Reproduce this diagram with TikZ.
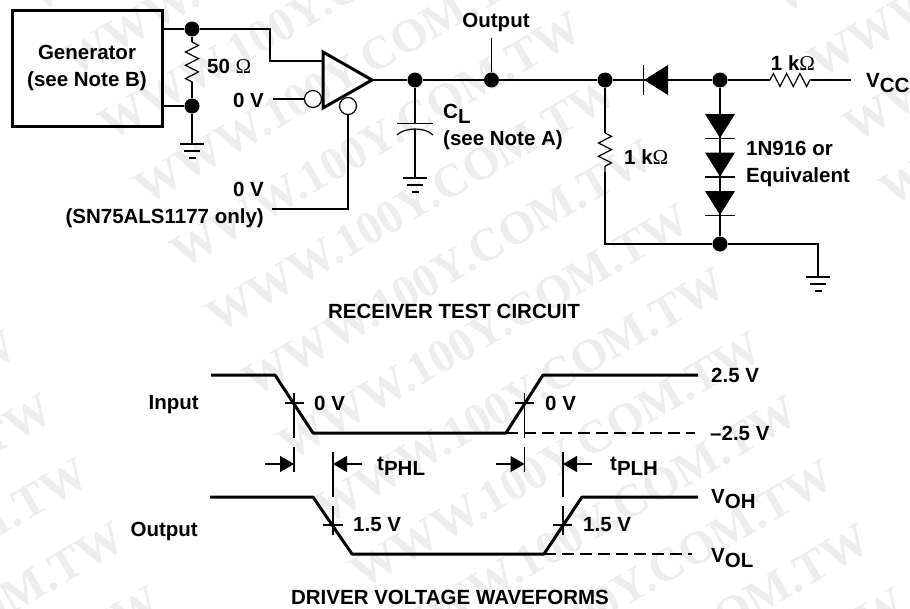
\documentclass[tikz,border=0pt]{standalone}
\usepackage{fontspec}
\setmainfont{Liberation Sans}
\newfontfamily\ohmfont{Liberation Serif}
\usetikzlibrary{arrows.meta}
\usetikzlibrary{decorations.pathmorphing}
\newcommand{\lowsub}[2]{#1\lower5pt\hbox{#2}}
\newcommand{\ohmsym}{{\ohmfont\mdseries\fontsize{21}{27}\selectfont Ω}}
\tikzset{%
  wire/.style={line width=1.2pt},
  junction/.style={circle, fill=black, inner sep=0pt, minimum size=15pt},
  lbl/.style={inner sep=0pt, font=\bfseries\fontsize{20.5}{27}\selectfont},
  mark text/.style={inner sep=0pt, text=black!7, font=\ohmfont\bfseries\fontsize{47}{47}\selectfont},
  resistor/.style={wire, decorate, decoration={zigzag, segment length=13.3pt, amplitude=6.5pt}},
  bubble/.style={circle, draw, line width=1.2pt, fill=white, inner sep=0pt, minimum size=17pt},
  wave/.style={line width=3pt, line join=round},
  level/.style={wire, dash pattern=on 12pt off 6pt},
  edgemark/.style={wire, dash pattern=on 45pt off 9pt},
  timearrow/.style={wire, -{Triangle[length=14pt,width=16pt]}},
  gndbars/.pic={
    \draw[wire] (-12,0) -- (12,0);
    \draw[wire] (-8,7) -- (8,7);
    \draw[wire] (-3.5,14) -- (3.5,14);
  },
  diode/.pic={
    \fill (0,-15) -- (24,0) -- (0,15) -- cycle;
    \draw[wire] (24.5,-15) -- (24.5,15);
  }
}

\begin{document}
\begin{tikzpicture}[x=1pt, y=-1pt]
  \useasboundingbox (0, 0) rectangle (910, 608);

  % watermark
  \begin{scope}
    \clip (0, 0) rectangle (910, 608);
    \foreach \c/\kmin/\kmax in {-1/-2/3, 0/-5/8, 1/0/3}
      \foreach \k in {\kmin,...,\kmax}
        \node[mark text, anchor=base west, rotate=30] (wm\c\k) at ({218+36*\k+565*\c}, {334+64*\k-318*\c}) {WWW.100Y.COM.TW};
  \end{scope}

  % receiver test circuit
  \node[draw, line width=3pt, minimum width=150pt, minimum height=116pt, lbl, align=center] (gen) at (87, 68) {Generator\\(see Note B)};
  \node[junction] (j1) at (192, 29) {};
  \node[junction] (j2) at (192, 106) {};
  \draw[wire] (gen.east |- j1) -- (j1);
  \draw[wire] (gen.east |- j2) -- (j2);
  \draw[wire] (j1) -- (192, 42);
  \draw[resistor] (192, 42) -- (192, 82);
  \draw[wire] (192, 82) -- (j2);
  \node[lbl, anchor=west] (r50) at (207, 66) {50 \ohmsym};
  \coordinate (g1) at (192, 144);
  \draw[wire] (j2) -- (g1);
  \pic at (g1) {gndbars};

  \draw[line width=3pt, line join=miter] (323, 52) -- (372, 80) -- (323, 108) -- cycle;
  \coordinate (bufin) at (323, 61);
  \coordinate (bufout) at (372, 80);
  \draw[wire] (j1) -- (270, 29) -- (270, 61) -- (bufin);
  \node[bubble] (b1) at (313, 99) {};
  \node[bubble] (b2) at (348, 106) {};
  \node[lbl, anchor=east] (v0a) at (264, 100) {0 V};
  \draw[wire] (273, 99) -- (b1);
  \node[lbl, anchor=east, align=right] (v0b) at (264, 204.5) {0 V\\(SN75ALS1177 only)};
  \coordinate (c1) at (272, 209);
  \draw[wire] (b2) -- (348, 209) -- (c1);

  \node[junction] (j3) at (415, 80) {};
  \node[junction] (j4) at (491.5, 80) {};
  \node[junction] (j5) at (605, 80) {};
  \node[junction] (j6) at (720, 80) {};
  \draw[wire] (bufout) -- (j3) -- (j4) -- (j5) -- (j6);
  \node[lbl] (outlbl) at (496, 22) {Output};
  \draw[wire] (491.5, 38) -- (j4);

  % load capacitor
  \coordinate (g2) at (415, 178);
  \draw[wire] (j3) -- (415, 123);
  \draw[wire] (397, 123.5) -- (433, 123.5);
  \draw[wire] (397, 135) .. controls (405, 127) and (425, 127) .. (433, 135);
  \draw[wire] (415, 129) -- (g2);
  \pic at (g2) {gndbars};
  \node[lbl, anchor=west, align=left] (cl) at (443, 126.5) {\lowsub{C}{L}\\(see Note A)};

  % diode string
  \pic[rotate=180] at (668, 80) {diode};
  \node[junction] (j7) at (720, 244) {};
  \draw[wire] (j6) -- (j7);
  \pic[rotate=-90] at (720, 114) {diode};
  \pic[rotate=-90] at (720, 152.5) {diode};
  \pic[rotate=-90] at (720, 191) {diode};
  \node[lbl, anchor=west, align=left] (dlbl) at (746, 163.5) {1N916 or\\Equivalent};

  \draw[wire] (j6) -- (770, 80);
  \draw[resistor] (770, 80) -- (811, 80);
  \coordinate (vcc) at (851, 80);
  \draw[wire] (811, 80) -- (vcc);
  \node[lbl] (r1a) at (793, 63) {1 k\ohmsym};
  \node[lbl, anchor=west] (vcclbl) at (866, 83) {\lowsub{V}{CC}};

  \draw[wire] (j5) -- (605, 133);
  \draw[resistor] (605, 133) -- (605, 172);
  \draw[wire] (605, 172) -- (605, 244) -- (j7);
  \node[lbl, anchor=west] (r1b) at (624, 157) {1 k\ohmsym};
  \coordinate (g3) at (818, 277);
  \draw[wire] (j7) -- (818, 244) -- (g3);
  \pic at (g3) {gndbars};

  \node[lbl] (title1) at (454, 311) {RECEIVER TEST CIRCUIT};

  % waveforms
  \draw[wave] (211, 375) -- (275, 375) -- (313, 433) -- (506, 433) -- (543, 375) -- (698, 375);
  \draw[wave] (210, 497) -- (313, 497) -- (352, 554) -- (544, 554) -- (582, 497) -- (698, 497);
  \draw[level] (506, 433) -- (695, 433);
  \draw[level] (544, 554) -- (692, 554);

  \draw[edgemark] (294, 393) -- (294, 472);
  \draw[wire] (285, 403) -- (304, 403);
  \draw[edgemark] (333, 452) -- (333, 535);
  \draw[wire] (323, 525) -- (343, 525);
  \draw[edgemark] (524.5, 393) -- (524.5, 472);
  \draw[wire] (515, 403) -- (534, 403);
  \draw[edgemark] (563, 452) -- (563, 535);
  \draw[wire] (553, 525) -- (572, 525);

  \draw[timearrow] (265, 464) -- (294, 464);
  \draw[timearrow] (362, 464) -- (333, 464);
  \draw[timearrow] (496, 464) -- (524.5, 464);
  \draw[timearrow] (592, 464) -- (563, 464);

  \node[lbl, anchor=west] (tphl) at (377, 466) {\lowsub{t}{PHL}};
  \node[lbl, anchor=west] (tplh) at (610, 466) {\lowsub{t}{PLH}};
  \node[lbl, anchor=east] (inlbl) at (199, 405) {Input};
  \node[lbl, anchor=east] (outlbl2) at (198, 531) {Output};
  \node[lbl, anchor=west] (z1) at (314, 403) {0 V};
  \node[lbl, anchor=west] (z2) at (545, 403) {0 V};
  \node[lbl, anchor=west] (h1) at (353, 525) {1.5 V};
  \node[lbl, anchor=west] (h2) at (583, 525) {1.5 V};
  \node[lbl, anchor=west] (hi) at (711, 375) {2.5 V};
  \node[lbl, anchor=west] (lo) at (710, 433) {--2.5 V};
  \node[lbl, anchor=west] (voh) at (711, 499) {\lowsub{V}{OH}};
  \node[lbl, anchor=west] (vol) at (711, 558) {\lowsub{V}{OL}};
  \node[lbl] (title2) at (450, 597) {DRIVER VOLTAGE WAVEFORMS};
\end{tikzpicture}
\end{document}
